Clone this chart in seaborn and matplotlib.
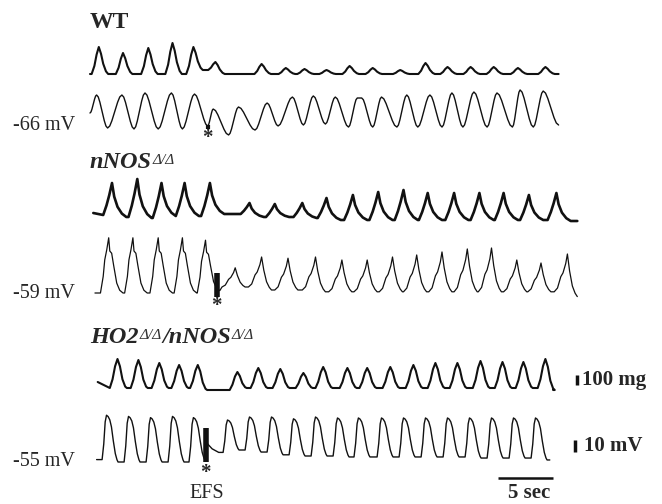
import numpy as np
import pandas as pd
import seaborn as sns
import matplotlib.pyplot as plt

# ---------------------------------------------------------------
# values (time in s, force in mg, Vm in mV)
# ---------------------------------------------------------------
efs_t = {'WT': 10.7, 'nNOS': 11.5, 'HO2': 10.5}
rest_mv = {'WT': -66, 'nNOS': -59, 'HO2': -55}

# WT force: peaks, trough before/after each peak
wt_f_peak_t = [0.8, 3.0, 5.3, 7.5, 9.4, 11.4, 15.6, 17.8, 19.5, 21.5, 23.6, 25.7, 28.2, 30.5, 32.5, 34.6, 36.7, 38.9, 41.4]
wt_f_peak_mg = [270, 210, 260, 310, 270, 120, 100, 60, 50, 40, 80, 60, 40, 110, 70, 70, 70, 60, 70]
wt_f_trough_mg = [0, 0, 0, 0, 0, 40, 0, 0, 0, 0, 0, 0, 0, 0, 0, 0, 0, 0, 0, 0]
wt_f_ends = [(0.0, 0), (42.6, 0)]
wt_f_shape_dt = [-0.65, -0.4, -0.2, 0, 0.2, 0.4, 0.65, 0.85]
wt_f_shape_fr = [0, 0.3, 0.72, 1, 0.75, 0.38, 0.1, 0]

# WT membrane potential: alternating extrema (mV above rest)
wt_v_ext_t = [0.0, 0.6, 1.6, 2.9, 4.0, 5.0, 6.2, 7.4, 8.4, 9.5,
              10.7, 11.2, 12.6, 13.5, 15.0, 16.1, 17.1, 18.4, 19.4, 20.3,
              21.4, 22.3, 23.5, 24.3, 24.7, 25.7, 26.5, 27.9, 28.8, 29.8,
              30.9, 32.0, 32.9, 33.9, 34.9, 36.1, 37.0, 38.4, 39.1, 40.3,
              41.2, 42.6]
wt_v_ext_mv = [12.5, 27.5, 0, 27.5, -0.8, 29.2, -0.8, 29.2, -0.8, 28.3,
               1.7, 15.8, -5.8, 17.5, -1.7, 20.8, 1.7, 25.8, 2.5, 26.7,
               3.3, 25.8, 0.8, 25.0, 25.0, 0.8, 25.8, 0.8, 27.5, 0.8,
               27.5, 0.8, 29.2, 0.8, 30.0, 0.8, 29.2, 0.8, 31.7, 0.8,
               30.8, 2.5]
half_cycle_u = [0, 0.15, 0.3, 0.5, 0.7, 0.85, 1]
half_cycle_s = [0, 0.06, 0.22, 0.5, 0.78, 0.94, 1]

# nNOS force
nnos_f_peak_t = [2.0, 4.3, 6.5, 8.6, 10.9, 14.5, 16.8, 19.3, 21.5, 23.9, 26.2, 28.5, 30.7, 33.1, 35.4, 37.6, 39.9, 42.4]
nnos_f_peak_mg = [320, 360, 320, 320, 320, 120, 110, 120, 170, 200, 230, 250, 220, 220, 220, 220, 200, 220]
nnos_f_trough_mg = [0, -20, -30, -10, -10, 10, -20, -20, -30, -50, -50, -50, -50, -50, -50, -50, -50, -50, -60]
nnos_f_ends = [(0.3, 20), (44.3, -60)]
nnos_f_shape_dt = [-0.8, -0.5, -0.25, 0, 0.2, 0.5, 0.9, 1.3]
nnos_f_shape_fr = [0, 0.3, 0.62, 1, 0.6, 0.3, 0.1, 0]

# nNOS membrane potential, before and after EFS
nnos_v_pre_t = [1.7, 3.9, 6.2, 8.4, 10.5]
nnos_v_pre_mv = [46, 46, 46, 46, 44]
nnos_v_pre_trough = [0, 0, 0, 0, 0, 2]
nnos_v_pre_dt = [-0.75, -0.5, -0.36, -0.18, 0, 0.1, 0.27, 0.45, 0.73, 1.0, 1.3]
nnos_v_pre_fr = [0, 0.3, 0.6, 0.78, 1, 0.76, 0.72, 0.5, 0.18, 0.05, 0]
nnos_v_post_t = [13.2, 15.6, 18.0, 20.5, 22.9, 25.2, 27.5, 29.7, 32.0, 34.3, 36.5, 38.8, 41.0, 43.4]
nnos_v_post_mv = [21, 30, 29, 30, 27.5, 27.5, 30, 31.7, 34.2, 36.7, 37.5, 27.5, 25, 32.5]
nnos_v_post_trough = [5, 5, 2.5, 2.5, 1, 1, 1, 1, 1, 1, 1, 1, 1, 1, -3]
nnos_v_post_dt = [-1.2, -0.9, -0.6, -0.4, -0.15, 0, 0.2, 0.45, 0.7, 0.9]
nnos_v_post_fr = [0, 0.1, 0.4, 0.5, 0.75, 1, 0.6, 0.25, 0.08, 0]
nnos_v_start = (0.45, 0)
nnos_artifact_mv = (-3.3, 16.7)

# HO2/nNOS force
ho2_f_peak_t = [2.5, 4.4, 6.3, 8.1, 9.8, 13.4, 15.3, 17.3, 19.4, 21.2, 23.4, 25.2, 27.3, 29.4, 31.4, 33.4, 35.5, 37.5, 39.4, 41.4]
ho2_f_peak_mg = [290, 280, 250, 230, 230, 160, 200, 190, 150, 210, 200, 200, 210, 230, 250, 250, 270, 260, 260, 290]
ho2_f_trough_mg = [0, 0, 0, 0, 0, -20, 0, 0, 0, 0, 0, 0, 0, 0, 0, 0, 0, 0, 0, 0, -20]
ho2_f_ends = [(0.7, 60), (42.1, -20)]
ho2_f_shape_dt = [-0.7, -0.45, -0.22, 0, 0.22, 0.45, 0.7, 0.85]
ho2_f_shape_fr = [0, 0.3, 0.75, 1, 0.75, 0.3, 0.05, 0]

# HO2/nNOS membrane potential
ho2_v_pre_t = [1.5, 3.5, 5.5, 7.5, 9.4]
ho2_v_pre_mv = [39, 38, 37, 38, 37]
ho2_v_pre_trough = [2, 0, 0, 0, 0, 1.7]
ho2_v_efs_t = [10.55, 10.7, 11.1, 11.7]
ho2_v_efs_mv = [18, 15, 11, 8]
ho2_v_post_t = [12.5, 14.5, 16.5, 18.5, 20.5, 22.5, 24.4, 26.5, 28.5, 30.5, 32.5, 34.5, 36.5, 38.5, 40.5]
ho2_v_post_mv = [35, 37.5, 37.5, 36, 37.5, 36.7, 36.7, 36.7, 36.7, 36.7, 36.7, 36.7, 36.7, 36.7, 36.7]
ho2_v_post_trough = [8, 10, 8.3, 6, 5, 5, 4.2, 4.2, 4.2, 4.2, 4.2, 4.2, 3.3, 3.3, 3.3, 1.7]
ho2_v_shape_dt = [-0.4, -0.25, -0.12, 0, 0.15, 0.3, 0.45, 0.62, 0.8, 0.95, 1.05]
ho2_v_shape_fr = [0, 0.35, 0.85, 1, 0.97, 0.9, 0.75, 0.45, 0.18, 0.05, 0]
ho2_v_ends = [(0.6, 2), (41.8, 1.7)]
ho2_artifact_mv = (0, 28)

# scale bars
bar_force_mg = 100
bar_volt_mv = 10
bar_time_s = 5


# ---------------------------------------------------------------
# helpers
# ---------------------------------------------------------------
def pulse_train(peak_t, peak_v, trough_v, dt, fr):
    t, v = [], []
    for i, (tp, vp) in enumerate(zip(peak_t, peak_v)):
        for d, f in zip(dt, fr):
            base = trough_v[i] if d < 0 else trough_v[i + 1]
            t.append(tp + d)
            v.append(base + f * (vp - base))
    return t, v


def extrema_curve(ext_t, ext_v, u, s):
    t, v = [ext_t[0]], [ext_v[0]]
    for t0, v0, t1, v1 in zip(ext_t[:-1], ext_v[:-1], ext_t[1:], ext_v[1:]):
        for uu, ss in zip(u[1:], s[1:]):
            t.append(t0 + uu * (t1 - t0))
            v.append(v0 + ss * (v1 - v0))
    return t, v


W, H = 662, 504
X0, PX_S = 90, 11.0          # pixel of t=0, pixels per second
MG_PX, MV_PX = 0.1, 1.2      # pixels per mg / per mV
rows = {'wt_f': 74, 'wt_v': 128, 'nnos_f': 215, 'nnos_v': 293, 'ho2_f': 388, 'ho2_v': 462}

sns.set_theme(style='white')
plt.rcParams['font.family'] = ['Liberation Serif', 'DejaVu Serif']

fig = plt.figure(figsize=(W / 100, H / 100), dpi=100)
ax = fig.add_axes([0, 0, 1, 1])
ax.set_xlim(-X0 / PX_S, (W - X0) / PX_S)
ax.set_ylim(H, 0)
ax.axis('off')


def draw(t, v, row, scale, lw):
    df = pd.DataFrame({'t': t, 'y': [rows[row] - vv * scale for vv in v]})
    sns.lineplot(data=df, x='t', y='y', ax=ax, estimator=None, sort=False,
                 color='#111111', linewidth=lw)


# WT
t, v = pulse_train(wt_f_peak_t, wt_f_peak_mg, wt_f_trough_mg, wt_f_shape_dt, wt_f_shape_fr)
draw([wt_f_ends[0][0]] + t + [wt_f_ends[1][0]], [wt_f_ends[0][1]] + v + [wt_f_ends[1][1]], 'wt_f', MG_PX, 1.5)
t, v = extrema_curve(wt_v_ext_t, wt_v_ext_mv, half_cycle_u, half_cycle_s)
draw(t, v, 'wt_v', MV_PX, 1.0)

# nNOS
t, v = pulse_train(nnos_f_peak_t, nnos_f_peak_mg, nnos_f_trough_mg, nnos_f_shape_dt, nnos_f_shape_fr)
draw([nnos_f_ends[0][0]] + t + [nnos_f_ends[1][0]], [nnos_f_ends[0][1]] + v + [nnos_f_ends[1][1]], 'nnos_f', MG_PX, 1.9)
t1, v1 = pulse_train(nnos_v_pre_t, nnos_v_pre_mv, nnos_v_pre_trough, nnos_v_pre_dt, nnos_v_pre_fr)
t2, v2 = pulse_train(nnos_v_post_t, nnos_v_post_mv, nnos_v_post_trough, nnos_v_post_dt, nnos_v_post_fr)
draw([nnos_v_start[0]] + t1 + t2, [nnos_v_start[1]] + v1 + v2, 'nnos_v', MV_PX, 0.9)

# HO2/nNOS
t, v = pulse_train(ho2_f_peak_t, ho2_f_peak_mg, ho2_f_trough_mg, ho2_f_shape_dt, ho2_f_shape_fr)
draw([ho2_f_ends[0][0]] + t + [ho2_f_ends[1][0]], [ho2_f_ends[0][1]] + v + [ho2_f_ends[1][1]], 'ho2_f', MG_PX, 1.5)
t1, v1 = pulse_train(ho2_v_pre_t, ho2_v_pre_mv, ho2_v_pre_trough, ho2_v_shape_dt, ho2_v_shape_fr)
t2, v2 = pulse_train(ho2_v_post_t, ho2_v_post_mv, ho2_v_post_trough, ho2_v_shape_dt, ho2_v_shape_fr)
draw([ho2_v_ends[0][0]] + t1 + ho2_v_efs_t + t2 + [ho2_v_ends[1][0]],
     [ho2_v_ends[0][1]] + v1 + ho2_v_efs_mv + v2 + [ho2_v_ends[1][1]], 'ho2_v', MV_PX, 1.0)

# stimulus artifacts
ax.vlines(efs_t['WT'], rows['wt_v'] + 1, rows['wt_v'] - 3, color='#111111', lw=3)
ax.vlines(efs_t['nNOS'], rows['nnos_v'] - nnos_artifact_mv[0] * MV_PX,
          rows['nnos_v'] - nnos_artifact_mv[1] * MV_PX, color='#111111', lw=4)
ax.vlines(efs_t['HO2'], rows['ho2_v'] - ho2_artifact_mv[0] * MV_PX,
          rows['ho2_v'] - ho2_artifact_mv[1] * MV_PX, color='#111111', lw=4)

# scale bars
ax.vlines((577 - X0) / PX_S, rows['ho2_f'] - 30 * MG_PX, rows['ho2_f'] - (30 + bar_force_mg) * MG_PX,
          color='#111111', lw=2.5)
ax.vlines((575 - X0) / PX_S, rows['ho2_v'] - 8.3 * MV_PX, rows['ho2_v'] - (8.3 + bar_volt_mv) * MV_PX,
          color='#111111', lw=2.5)
t_bar0 = (498 - X0) / PX_S
ax.hlines(478, t_bar0, t_bar0 + bar_time_s, color='#111111', lw=1.8)


# ---------------------------------------------------------------
# text
# ---------------------------------------------------------------
def ftext(x, y, s, **kw):
    return fig.text(x / W, 1 - y / H, s, **kw)


def genotype(x, y, parts):
    main_kw = dict(fontsize=17.5, fontweight='bold', fontstyle='italic')
    sup_kw = dict(fontsize=11, fontstyle='italic', color='#333333')
    first = ftext(x, y, parts[0], va='baseline', **main_kw)
    prev = first
    for txt, is_sup in parts[1:]:
        if is_sup:
            prev = ax.annotate(txt, xy=(1, 1), xycoords=prev, xytext=(0.5, -1.5),
                               textcoords='offset points', ha='left', va='top', **sup_kw)
        else:
            prev = ax.annotate(txt, xy=(1, 0), xycoords=(prev, first), xytext=(0.5, 0),
                               textcoords='offset points', ha='left', va='bottom', **main_kw)


ftext(90, 28, 'WT', fontsize=17, fontweight='bold', va='baseline')
genotype(90, 168, ['nNOS', ('Δ/Δ', True)])
genotype(90, 343, ['HO2', ('Δ/Δ', True), ('/nNOS', False), ('Δ/Δ', True)])

for name, y in [('WT', 125), ('nNOS', 293), ('HO2', 462)]:
    ftext(13, y, f'{rest_mv[name]} mV', fontsize=14.5, va='center', ha='left')

for name, y in [('WT', 138), ('nNOS', 306), ('HO2', 473)]:
    ftext(X0 + efs_t[name] * PX_S, y, '*', fontsize=15, fontweight='bold', va='center', ha='center')

ftext(207, 493, 'EFS', fontsize=14.5, va='center', ha='center')
ftext(582, 380, f'{bar_force_mg} mg', fontsize=15, fontweight='bold', va='center', ha='left')
ftext(584, 446, f'{bar_volt_mv} mV', fontsize=15, fontweight='bold', va='center', ha='left')
ftext(529, 493, f'{bar_time_s} sec', fontsize=15, fontweight='bold', va='center', ha='center')

fig.savefig('out.png', dpi=100, facecolor='white')
